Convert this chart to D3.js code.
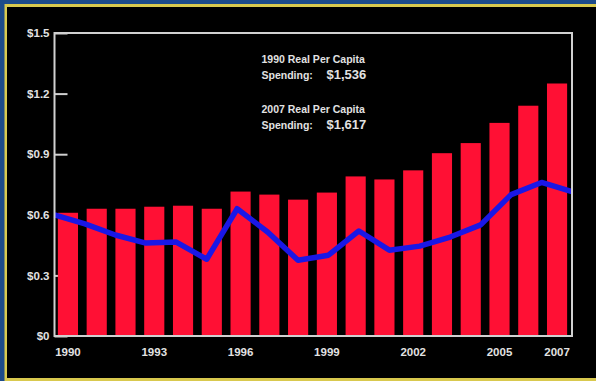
<!DOCTYPE html>
<html>
<head>
<meta charset="utf-8">
<script src="https://cdn.jsdelivr.net/npm/d3@7"></script>
<style>
  html, body { margin: 0; padding: 0; background: #1d4b8a; }
  svg { display: block; }
  text { font-family: "Liberation Sans", Arial, sans-serif; font-weight: bold; fill: #e2e2e2; }
</style>
</head>
<body>
<svg id="chart" width="596" height="381"></svg>
<script>
// Years shown on the horizontal axis
const years = [1990, 1991, 1992, 1993, 1994, 1995, 1996, 1997, 1998, 1999,
               2000, 2001, 2002, 2003, 2004, 2005, 2006, 2007];
// Bars: total spending (billions of dollars)
const totalSpending = [0.61, 0.63, 0.63, 0.64, 0.645, 0.63, 0.715, 0.70, 0.675, 0.71,
                       0.79, 0.775, 0.82, 0.905, 0.955, 1.055, 1.14, 1.25];
// Line: inflation-adjusted spending (billions of dollars)
const realSpending = [0.60, 0.555, 0.50, 0.46, 0.465, 0.38, 0.63, 0.515, 0.375, 0.40,
                      0.52, 0.425, 0.445, 0.49, 0.55, 0.70, 0.76, 0.715];
// Axis labels
const yTicks = [0, 0.3, 0.6, 0.9, 1.2, 1.5];
const yTickLabels = ["$0", "$0.3", "$0.6", "$0.9", "$1.2", "$1.5"];
const xLabelYears = [1990, 1993, 1996, 1999, 2002, 2005, 2007];
// Callout text
const notes = [
  { title: "1990 Real Per Capita", label: "Spending:", value: "$1,536" },
  { title: "2007 Real Per Capita", label: "Spending:", value: "$1,617" }
];

const svg = d3.select("#chart");
const W = 596, H = 381;
const plot = { left: 54.5, right: 572, top: 33, bottom: 336 };

// Framed black panel
svg.append("rect").attr("x", 0).attr("y", 0).attr("width", W).attr("height", H).attr("fill", "#1d4b8a");
svg.append("rect").attr("x", 4.5).attr("y", 4).attr("width", 620).attr("height", 400).attr("fill", "#d9c94e");
svg.append("rect").attr("x", 7).attr("y", 7).attr("width", 620).attr("height", 371).attr("fill", "#000");

const y = d3.scaleLinear().domain([0, 1.5]).range([plot.bottom, plot.top]);
const xBand = d3.scaleBand().domain(years).range([55, 570]).paddingInner(0.3).paddingOuter(0.1);
const xPoint = d3.scalePoint().domain(years).range([plot.left, plot.right]);

// Left axis with inward ticks
const yAxis = d3.axisLeft(y).tickValues(yTicks).tickSize(-13).tickPadding(18)
  .tickFormat((d, i) => yTickLabels[i]);
const yG = svg.append("g").attr("transform", `translate(${plot.left},0)`).call(yAxis);
yG.select(".domain").remove();
yG.selectAll(".tick line").attr("stroke", "#cfcfcf").attr("stroke-width", 2);
yG.selectAll(".tick text").attr("font-size", 11.5).attr("fill", "#e2e2e2")
  .attr("font-family", "'Liberation Sans', Arial, sans-serif").attr("font-weight", "bold")
  .attr("x", -5);

// Bars
svg.append("g").selectAll("rect").data(years).join("rect")
  .attr("x", d => xBand(d))
  .attr("width", xBand.bandwidth())
  .attr("y", (d, i) => y(totalSpending[i]))
  .attr("height", (d, i) => y(0) - y(totalSpending[i]))
  .attr("fill", "#ff1034");

// Line
const line = d3.line().x((d, i) => xPoint(years[i])).y(d => y(d));
svg.append("path").datum(realSpending)
  .attr("d", line)
  .attr("fill", "none")
  .attr("stroke", "#1a17e6")
  .attr("stroke-width", 5.5)
  .attr("stroke-linejoin", "round")
  .attr("stroke-linecap", "butt");

// Plot frame
svg.append("rect")
  .attr("x", plot.left).attr("y", plot.top)
  .attr("width", plot.right - plot.left).attr("height", plot.bottom - plot.top)
  .attr("fill", "none").attr("stroke", "#d0d0d0").attr("stroke-width", 2);

// Bottom axis labels
const xAxis = d3.axisBottom(xBand).tickValues(xLabelYears).tickSize(0).tickPadding(12);
const xG = svg.append("g").attr("transform", `translate(0,${plot.bottom})`).call(xAxis);
xG.select(".domain").remove();
xG.selectAll(".tick text").attr("font-size", 11.5).attr("fill", "#e2e2e2")
  .attr("font-family", "'Liberation Sans', Arial, sans-serif").attr("font-weight", "bold");

// Callouts
const noteTop = [63, 113];
notes.forEach((n, i) => {
  svg.append("text").attr("x", 261.5).attr("y", noteTop[i]).attr("font-size", 10.5).text(n.title);
  svg.append("text").attr("x", 261.5).attr("y", noteTop[i] + 16).attr("font-size", 10.5).text(n.label);
  svg.append("text").attr("x", 326.5).attr("y", noteTop[i] + 16).attr("font-size", 13).text(n.value);
});
</script>
</body>
</html>
